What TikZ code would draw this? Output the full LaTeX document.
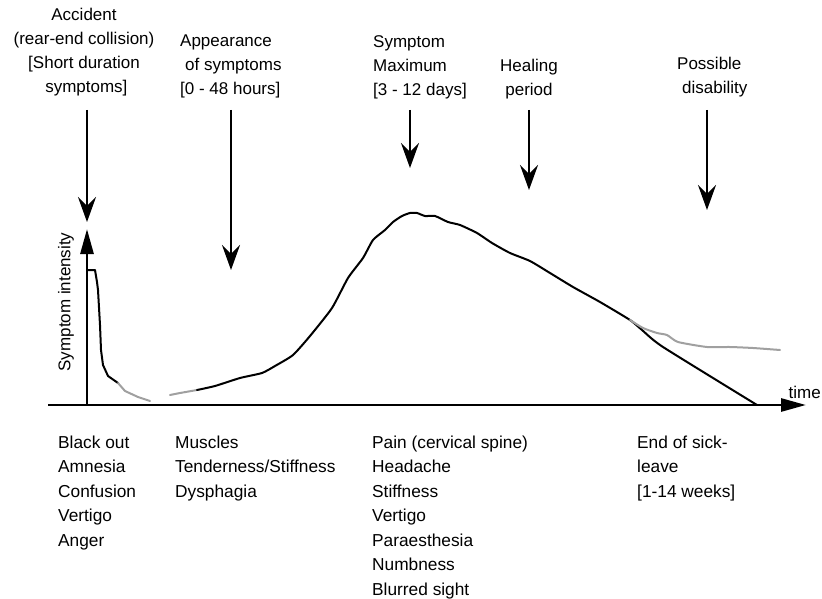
\documentclass[tikz,border=0pt]{standalone}
\usepackage{fontspec}
\setmainfont{Liberation Sans}
\usetikzlibrary{arrows.meta}
\definecolor{curvegray}{RGB}{160,160,160}
\tikzset{
  lbl/.style={inner sep=0pt, font=\fontsize{17}{24}\selectfont},
  lst/.style={inner sep=0pt, anchor=north west, align=left, font=\fontsize{17.3}{24.5}\selectfont},
  downarrow/.style={line width=2.4pt, -{Stealth[length=25pt,width=18pt,inset=9pt]}},
  axisline/.style={line width=2.8pt, -{Triangle[length=25pt,width=13pt]}},
  curveblack/.style={line width=2pt, line join=round, line cap=round},
  curvegrey/.style={line width=2pt, line join=round, line cap=round, draw=curvegray},
}
\begin{document}
\begin{tikzpicture}[x=1pt,y=-1pt]
\useasboundingbox (0,0) rectangle (822,599);

% top labels (first baseline given)
\node[lbl, anchor=north, align=center] (lacc) at (84,21-17) {\strut Accident\\(rear-end collision)\\{}[Short duration\\\ symptoms]};
\node[lbl, anchor=north west, align=left] (lapp) at (180,46-16.8) {\strut Appearance\\\hspace{5pt}of symptoms\\{}[0 - 48 hours]};
\node[lbl, anchor=north west, align=left] (lmax) at (373,47-16.8) {\strut Symptom\\Maximum\\{}[3 - 12 days]};
\node[lbl, anchor=north, align=center] (lheal) at (529,71-16.8) {\strut Healing\\period};
\node[lbl, anchor=north west, align=left] (lposs) at (677,69-16.8) {\strut Possible\\\hspace{5pt}disability};

% arrow coordinates
\coordinate (a1s) at (87,110);  \coordinate (a1e) at (87,222);
\coordinate (a2s) at (231,110); \coordinate (a2e) at (231,270);
\coordinate (a3s) at (410,110); \coordinate (a3e) at (410,168);
\coordinate (a4s) at (529,110); \coordinate (a4e) at (529,190);
\coordinate (a5s) at (707,110); \coordinate (a5e) at (707,210);
\draw[downarrow] (a1s) -- (a1e);
\draw[downarrow] (a2s) -- (a2e);
\draw[downarrow] (a3s) -- (a3e);
\draw[downarrow] (a4s) -- (a4e);
\draw[downarrow] (a5s) -- (a5e);

% axes
\coordinate (origin) at (87,405);
\coordinate (ytop) at (87,229);
\coordinate (xleft) at (48,405);
\coordinate (xright) at (806,405);
\draw[axisline] (origin) -- (ytop);
\draw[axisline] (xleft) -- (xright);

\node[lbl, rotate=90] (ylab) at (66,302) {Symptom intensity};
\node[lbl, anchor=base east] (tlab) at (821,398) {time};

% curves
\draw[curveblack] (87,270) -- (95,270) -- (97,282) -- (98,290) -- (100,325) -- (101,350) -- (103,365) -- (108,376) -- (118,383);
\draw[curvegrey] (118,383) -- (125,391) -- (138,397) -- (150,401);
\draw[curvegrey] (170,395) -- (180,393) -- (197,390);
\draw[curveblack] plot[smooth, tension=0.35] coordinates {(197,390) (215,386) (240,378) (262,373) (275,366) (293,355) (310,336) (332,308) (348,278) (363,258) (373,240) (385,230) (393,222) (402,216) (410,213) (417,213) (425,216) (435,216) (448,222) (460,225) (477,233) (492,243) (510,253) (530,261) (550,273) (573,287) (600,302) (630,320) (642,330) (663,347) (757,405)};
\draw[curvegrey] plot[smooth, tension=0.35] coordinates {(630,320) (643,328) (657,333) (667,335) (678,342) (707,347) (730,347) (753,348) (780,350)};

% bottom lists (first line centre ~442 -> baseline 448)
\node[lst] (c1) at (58,448-17.15) {\strut Black out\\Amnesia\\Confusion\\Vertigo\\Anger};
\node[lst] (c2) at (175,448-17.15) {\strut Muscles\\Tenderness/Stiffness\\Dysphagia};
\node[lst] (c3) at (372,448-17.15) {\strut Pain (cervical spine)\\Headache\\Stiffness\\Vertigo\\Paraesthesia\\Numbness\\Blurred sight};
\node[lst] (c4) at (637,448-17.15) {\strut End of sick-\\leave\\{}[1-14 weeks]};
\end{tikzpicture}
\end{document}
